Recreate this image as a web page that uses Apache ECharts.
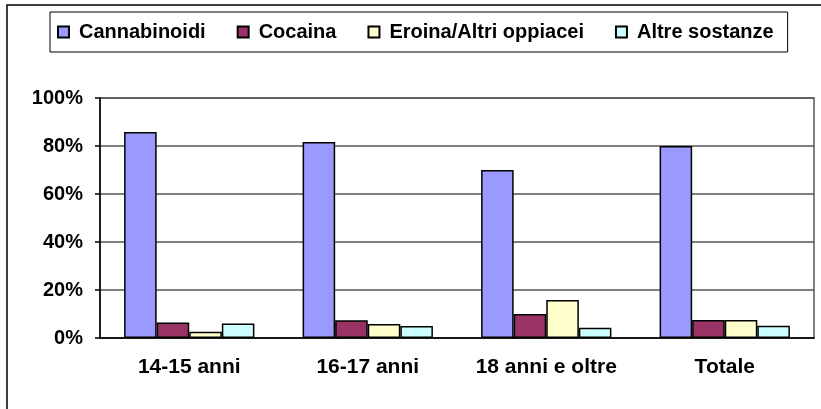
<!DOCTYPE html>
<html>
<head>
    <meta charset="utf-8">
    <title>Sostanze per classe di età</title>
    <script src="https://cdn.jsdelivr.net/npm/echarts@6/dist/echarts.min.js"></script>
    <style>
        html, body { margin: 0; padding: 0; background: #fff; }
        #main { width: 821px; height: 409px; }
    </style>
</head>
<body>
    <div id="main"></div>
    <script>
        // dati (percentuali)
        const categories = ['14-15 anni', '16-17 anni', '18 anni e oltre', 'Totale'];
        const seriesNames = ['Cannabinoidi', 'Cocaina', 'Eroina/Altri oppiacei', 'Altre sostanze'];
        const cannabinoidi = [85.8, 81.7, 70.0, 80.0];
        const cocaina = [6.5, 7.4, 10.0, 7.5];
        const eroina = [2.6, 5.8, 15.8, 7.5];
        const altre = [6.0, 5.0, 4.3, 5.1];
        const colors = ['#9999ff', '#993366', '#ffffcc', '#ccffff'];

        const font = '"Liberation Sans", Arial, sans-serif';
        const allValues = [cannabinoidi, cocaina, eroina, altre];

        var myChart = echarts.init(document.getElementById('main'));

        const option = {
            animation: false,
            textStyle: { fontFamily: font },
            graphic: [
                {
                    type: 'rect',
                    shape: { x: 7, y: 5, width: 900, height: 500 },
                    style: { fill: 'none', stroke: '#000', lineWidth: 1.5 },
                    silent: true
                }
            ],
            legend: {
                data: seriesNames,
                left: 50,
                top: 12,
                padding: [10, 14, 10, 7],
                itemGap: 31,
                itemWidth: 11,
                itemHeight: 11,
                icon: 'rect',
                borderColor: '#000',
                borderWidth: 1,
                textStyle: {
                    fontFamily: font,
                    fontWeight: 'bold',
                    fontSize: 20,
                    color: '#000',
                    padding: [0, 0, 0, 5]
                }
            },
            grid: {
                left: 100,
                right: 7,
                top: 98,
                bottom: 71,
                show: true,
                borderColor: '#808080',
                borderWidth: 2
            },
            xAxis: {
                type: 'category',
                data: categories,
                axisLine: { lineStyle: { color: '#000', width: 1.5 } },
                axisTick: { length: 6, lineStyle: { color: '#000', width: 1.5 } },
                axisLabel: {
                    interval: 0,
                    margin: 19,
                    color: '#000',
                    fontWeight: 'bold',
                    fontSize: 21,
                    fontFamily: font
                }
            },
            yAxis: {
                type: 'value',
                min: 0,
                max: 100,
                interval: 20,
                axisLine: { show: true, lineStyle: { color: '#000', width: 1.5 } },
                axisTick: { show: true, length: 5, lineStyle: { color: '#000', width: 1.5 } },
                splitLine: { lineStyle: { color: '#555', width: 1.5 } },
                axisLabel: {
                    formatter: '{value}%',
                    margin: 17,
                    color: '#000',
                    fontWeight: 'bold',
                    fontSize: 20,
                    fontFamily: font
                }
            },
            series: seriesNames.map(function (name, i) {
                return {
                    name: name,
                    type: 'bar',
                    data: allValues[i],
                    barGap: '0%',
                    barCategoryGap: '27%',
                    itemStyle: {
                        color: colors[i],
                        borderColor: '#000',
                        borderWidth: 1.5
                    }
                };
            })
        };

        myChart.setOption(option);
        window.addEventListener('resize', function () {
            myChart.resize();
        });
    </script>
</body>
</html>
